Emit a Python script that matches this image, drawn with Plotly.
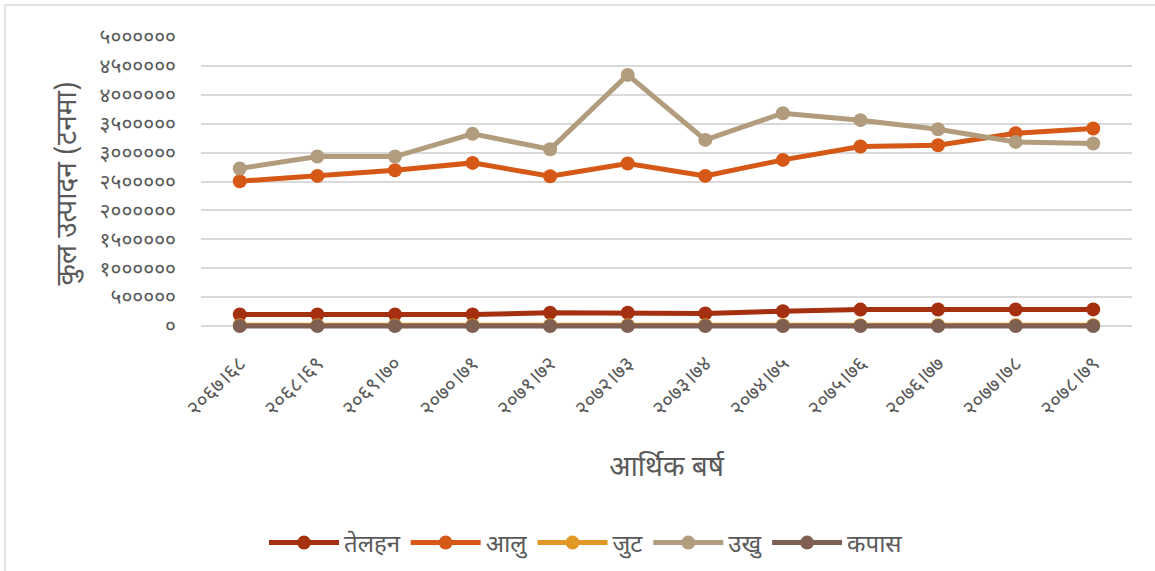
import plotly.graph_objects as go

years = ["२०६७।६८", "२०६८।६९", "२०६९।७०", "२०७०।७१", "२०७१।७२", "२०७२।७३",
         "२०७३।७४", "२०७४।७५", "२०७५।७६", "२०७६।७७", "२०७७।७८", "२०७८।७९"]

oilseed = [199000, 200000, 200000, 201000, 228000, 228000, 216000, 255000, 284000, 285000, 286000, 287000]
potato = [2505000, 2597000, 2695000, 2822000, 2592000, 2811000, 2597000, 2874000, 3106000, 3128000, 3336000, 3417000]
jute = [15000, 15000, 15000, 15000, 15000, 15000, 15000, 15000, 15000, 15000, 15000, 15000]
sugarcane = [2725000, 2932000, 2932000, 3324000, 3059000, 4344000, 3220000, 3682000, 3561000, 3405000, 3185000, 3157000]
cotton = [100, 100, 100, 100, 100, 100, 100, 100, 100, 100, 100, 100]

series_names = ["तेलहन", "आलु", "जुट", "उखु", "कपास"]
series_values = [oilseed, potato, jute, sugarcane, cotton]
series_colors = ["#A5300F", "#D55816", "#E19825", "#B19C7D", "#7F5F52"]

y_tickvals = [0, 500000, 1000000, 1500000, 2000000, 2500000, 3000000, 3500000, 4000000, 4500000, 5000000]
y_ticktext = ["०", "५०००००", "१००००००", "१५०००००", "२००००००", "२५०००००", "३००००००",
              "३५०००००", "४००००००", "४५०००००", "५००००००"]

font_family = "Noto Sans Devanagari, Noto Sans, Lohit Devanagari, sans-serif"
gray = "#595959"

fig = go.Figure()
for name, vals, col in zip(series_names, series_values, series_colors):
    fig.add_trace(go.Scatter(
        x=years, y=vals, name=name, mode="lines+markers",
        line=dict(color=col, width=5),
        marker=dict(color=col, size=14),
        cliponaxis=False,
    ))

W, H = 1155, 571
ZERO_PX, TOP_PX = 326, 37          # pixel rows of 0 and of the axis maximum
PAD = 4                            # extra room below zero so the bottom line is not clipped
L, R, T = 201, 23, TOP_PX
B = H - ZERO_PX - PAD
ymax = 5000000
ymin = -ymax * PAD / (ZERO_PX - TOP_PX)
pw, ph = W - L - R, H - T - B

def px_x(p):
    return (p - L) / pw

def px_y(p):
    return (H - B - p) / ph

fig.update_layout(
    width=W, height=H,
    margin=dict(l=L, r=R, t=T, b=B, autoexpand=False),
    paper_bgcolor="white", plot_bgcolor="white",
    font=dict(family=font_family, color=gray, size=16),
    showlegend=True,
    legend=dict(orientation="h", x=px_x(586), xanchor="center", y=px_y(543), yanchor="middle",
                font=dict(size=24, color=gray), itemwidth=70, traceorder="normal"),
    xaxis=dict(
        type="category", range=[-0.5, len(years) - 0.5],
        tickangle=-45, tickfont=dict(size=21, color=gray),
        showgrid=False, showline=False, zeroline=False, ticks="",
        ticklabelstandoff=16,
        title=dict(text="आर्थिक बर्ष", font=dict(size=28, color=gray), standoff=34),
    ),
    yaxis=dict(
        range=[ymin, ymax], tickvals=y_tickvals, ticktext=y_ticktext,
        tickfont=dict(size=21, color=gray),
        showgrid=True, gridcolor="#D9D9D9", gridwidth=1.5,
        zeroline=False, showline=False, ticks="", ticklabelstandoff=24,
        title=dict(text="कुल उत्पादन (टनमा)", font=dict(size=28, color=gray), standoff=14),
    ),
    shapes=[
        dict(type="line", xref="paper", yref="paper", x0=px_x(5), x1=px_x(1160), y0=px_y(5), y1=px_y(5),
             line=dict(color="#D9D9D9", width=1.5), layer="below"),
        dict(type="line", xref="paper", yref="paper", x0=px_x(5), x1=px_x(5), y0=px_y(5), y1=px_y(580),
             line=dict(color="#D9D9D9", width=1.5), layer="below"),
    ],
)

fig.write_html("out.html", config={"displayModeBar": False},
               post_script="document.body.style.margin='0';")
